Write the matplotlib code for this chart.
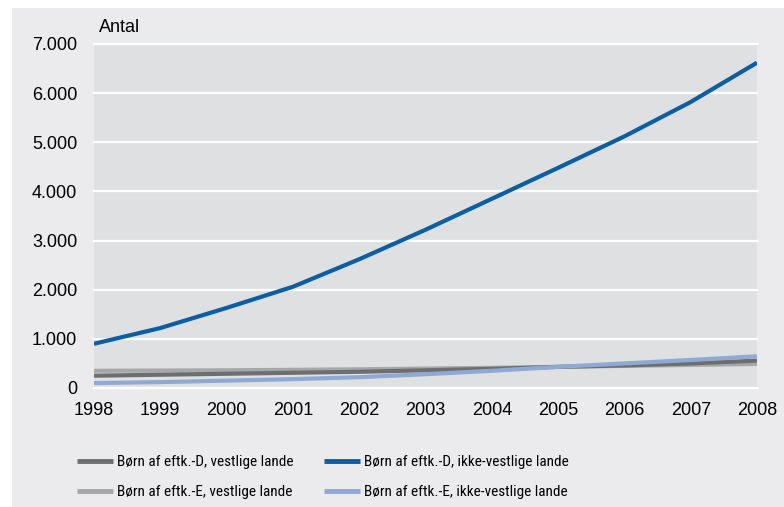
import matplotlib.pyplot as plt
from matplotlib import font_manager
from matplotlib.patches import Rectangle

years = list(range(1998, 2009))
d_vest = [250, 270, 290, 310, 330, 360, 390, 430, 460, 500, 557]
d_ikke = [900, 1220, 1630, 2060, 2620, 3220, 3850, 4480, 5120, 5820, 6620]
e_vest = [350, 355, 360, 370, 380, 395, 410, 430, 450, 470, 490]
e_ikke = [100, 120, 150, 180, 220, 280, 350, 430, 500, 570, 645]

labels = ['Børn af eftk.-D, vestlige lande', 'Børn af eftk.-D, ikke-vestlige lande',
          'Børn af eftk.-E, vestlige lande', 'Børn af eftk.-E, ikke-vestlige lande']
yticks = [0, 1000, 2000, 3000, 4000, 5000, 6000, 7000]
ytick_labels = ['0', '1.000', '2.000', '3.000', '4.000', '5.000', '6.000', '7.000']

plt.rcParams['font.family'] = ['Liberation Sans', 'DejaVu Sans']

# condensed face for the legend if there is one
leg_font, leg_size = 'Liberation Sans', 9.5
for name, size in [('Liberation Sans Narrow', 11), ('Roboto Condensed', 11)]:
    try:
        font_manager.findfont(name, fallback_to_default=False)
        leg_font, leg_size = name, size
        break
    except ValueError:
        pass

fig = plt.figure(figsize=(7.84, 5.07), dpi=100)
fig.patches.append(Rectangle((12 / 784, 0), 1, 1 - 8 / 507, transform=fig.transFigure,
                             facecolor='#ebebed', edgecolor='none', zorder=-10))

ax = fig.add_axes([94 / 784, 1 - 388 / 507, 663 / 784, 344 / 507])
ax.set_facecolor('#dfe0e2')
for s in ax.spines.values():
    s.set_visible(False)

ax.plot(years, e_vest, color='#a6a7a9', lw=3, solid_capstyle='butt', label=labels[2])
ax.plot(years, d_vest, color='#6d6e70', lw=3, solid_capstyle='butt', label=labels[0])
ax.plot(years, e_ikke, color='#8fa9d5', lw=3, solid_capstyle='butt', label=labels[3])
ax.plot(years, d_ikke, color='#0a5ea6', lw=3, solid_capstyle='butt', label=labels[1])

ax.set_xlim(1998, 2008)
ax.set_ylim(0, 7000)
ax.set_xticks(years)
ax.set_yticks(yticks)
ax.set_yticklabels(ytick_labels)
ax.tick_params(length=0, labelsize=13)
ax.tick_params(axis='y', pad=12)
ax.tick_params(axis='x', pad=10)
ax.grid(axis='y', color='white', lw=1.6)
ax.set_axisbelow(True)
for gl in ax.get_ygridlines():
    gl.set_clip_on(False)

fig.text(99 / 784, 1 - 27 / 507, 'Antal', fontsize=13, va='center', ha='left')

handles, labs = ax.get_legend_handles_labels()
order = [1, 0, 3, 2]
leg = fig.legend([handles[i] for i in order], [labs[i] for i in order],
                 ncol=2, frameon=False, loc='upper left',
                 bbox_to_anchor=(77 / 784, 1 - 455 / 507),
                 prop={'family': [leg_font, 'DejaVu Sans'], 'size': leg_size},
                 handlelength=2.35, handletextpad=0.26, columnspacing=2.0,
                 labelspacing=1.05, borderaxespad=0, borderpad=0)
for h in leg.get_lines():
    h.set_linewidth(3.5)

fig.savefig('out.png', dpi=100)
